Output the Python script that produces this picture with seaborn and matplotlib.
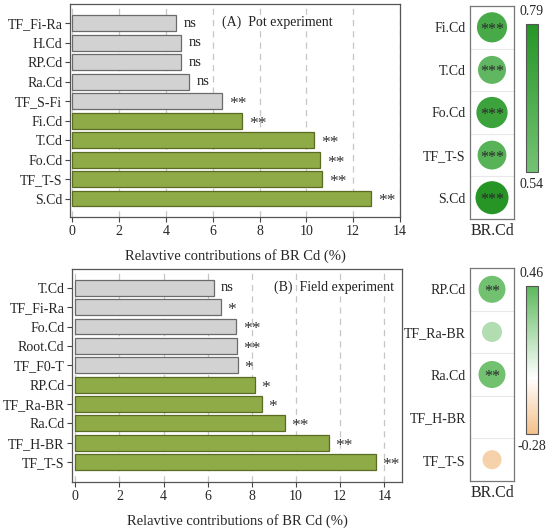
import numpy as np
import pandas as pd
import matplotlib
matplotlib.use('Agg')
import matplotlib.pyplot as plt
import seaborn as sns
from matplotlib.colors import LinearSegmentedColormap, Normalize
from matplotlib.cm import ScalarMappable

# 막대 데이터 (A: pot, B: field)
pot_vars = ['TF_Fi-Ra', 'H.Cd', 'RP.Cd', 'Ra.Cd', 'TF_S-Fi', 'Fi.Cd', 'T.Cd', 'Fo.Cd', 'TF_T-S', 'S.Cd']
pot_vals = [4.45, 4.65, 4.65, 5.0, 6.38, 7.25, 10.32, 10.57, 10.67, 12.75]
pot_sig = ['ns', 'ns', 'ns', 'ns', '**', '**', '**', '**', '**', '**']
pot_grp = ['grey'] * 5 + ['green'] * 5

field_vars = ['T.Cd', 'TF_Fi-Ra', 'Fo.Cd', 'Root.Cd', 'TF_F0-T', 'RP.Cd', 'TF_Ra-BR', 'Ra.Cd', 'TF_H-BR', 'TF_T-S']
field_vals = [6.3, 6.58, 7.3, 7.31, 7.36, 8.13, 8.44, 9.5, 11.48, 13.62]
field_sig = ['ns', '*', '**', '**', '*', '*', '*', '**', '**', '**']
field_grp = ['grey'] * 5 + ['green'] * 5

# 상관 데이터
pot_corr_vars = ['Fi.Cd', 'T.Cd', 'Fo.Cd', 'TF_T-S', 'S.Cd']
pot_corr = [0.68, 0.60, 0.72, 0.63, 0.79]
pot_corr_sig = ['***', '***', '***', '***', '***']

field_corr_vars = ['RP.Cd', 'TF_Ra-BR', 'Ra.Cd', 'TF_H-BR', 'TF_T-S']
field_corr = [0.40, 0.22, 0.40, 0.0, -0.20]
field_corr_sig = ['**', '', '**', '', '']

GREEN, GREY = '#95bc36', '#d2d2d2'
XLAB = 'Relavtive contributions of BR Cd (%)'

sns.set_style('white')
plt.rcParams['font.family'] = ['Liberation Serif', 'DejaVu Serif']

W, H = 550, 532
fig = plt.figure(figsize=(W / 100, H / 100), dpi=100)


def px(l, t, r, b):
    return [l / W, 1 - b / H, (r - l) / W, (b - t) / H]


def bar_panel(ax, vars_, vals, sig, grp, xlim, ylim, label, lx):
    df = pd.DataFrame({'var': vars_, 'val': vals, 'grp': grp})
    sns.barplot(data=df, x='val', y='var', hue='grp', palette={'grey': GREY, 'green': GREEN},
                dodge=False, width=0.82, linewidth=0.9, legend=False, ax=ax)
    for p in ax.patches:
        fc = p.get_facecolor()
        p.set_edgecolor('#6b6b6b' if abs(fc[0] - fc[1]) < 0.05 else '#5a6b22')
    for i, (v, s) in enumerate(zip(vals, sig)):
        if s == 'ns':
            ax.text(v + 0.3, i, s, va='center', ha='left', fontsize=10.5, color='#222222')
        else:
            ax.text(v + 0.3, i + 0.15, s, va='center', ha='left', fontsize=12.5, color='#333333')
    ax.text(lx, -0.05, label, va='center', ha='left', fontsize=10, color='#222222')
    ax.set_xlim(*xlim)
    ax.set_ylim(*ylim)
    ax.set_xticks(range(0, 15, 2))
    ax.grid(axis='x', linestyle=(0, (5, 4)), color='#c6c6c6', lw=0.9)
    ax.set_axisbelow(True)
    ax.set_ylabel('')
    ax.set_xlabel(XLAB, fontsize=10.5, labelpad=8)
    ax.tick_params(axis='both', which='major', labelsize=10, length=3.5, width=0.8,
                   direction='out', color='#444444', bottom=True, left=True, pad=2)
    for sp in ax.spines.values():
        sp.set_color('#555555')
        sp.set_linewidth(0.9)


ax1 = fig.add_axes(px(70, 4, 400, 217))
bar_panel(ax1, pot_vars, pot_vals, pot_sig, pot_grp, (-0.1, 14), (9.95, -1.0),
          '(A)  Pot experiment', 6.4)

ax2 = fig.add_axes(px(72, 269, 402, 482))
bar_panel(ax2, field_vars, field_vals, field_sig, field_grp, (-0.15, 14.8), (10.03, -0.97),
          '(B)  Field experiment', 9.0)


def corr_panel(ax, cax, vars_, vals, sig, cmap, vmin, vmax, size_norm, sizes):
    n = len(vars_)
    df = pd.DataFrame({'x': np.zeros(n), 'y': np.arange(n), 'v': vals, 'a': np.abs(vals)})
    sns.scatterplot(data=df, x='x', y='y', hue='v', palette=cmap, hue_norm=(vmin, vmax),
                    size='a', sizes=sizes, size_norm=size_norm, edgecolor='none',
                    linewidth=0, legend=False, ax=ax)
    for i, s in enumerate(sig):
        if s:
            ax.text(0, i + 0.06, s, ha='center', va='center', fontsize=11.5, color='#2a2a2a')
    for yb in np.arange(0.5, n - 0.5, 1):
        ax.axhline(yb, color='#e8e8e8', lw=0.8, zorder=0)
    ax.set_xlim(-0.5, 0.5)
    ax.set_ylim(n - 0.5, -0.5)
    ax.set_yticks(range(n))
    ax.set_yticklabels(vars_, fontsize=10)
    ax.set_xticks([0])
    ax.set_xticklabels(['BR.Cd'], fontsize=11.5)
    ax.tick_params(length=0, pad=3)
    ax.set_xlabel('')
    ax.set_ylabel('')
    for sp in ax.spines.values():
        sp.set_color('#777777')
        sp.set_linewidth(0.9)
    cb = fig.colorbar(ScalarMappable(norm=Normalize(vmin, vmax), cmap=cmap), cax=cax)
    cb.set_ticks([])
    cb.outline.set_edgecolor('#555555')
    cb.outline.set_linewidth(0.8)
    cax.text(0.5, 1.04, f'{vmax:.2f}', transform=cax.transAxes, ha='center', va='bottom', fontsize=10)
    cax.text(0.5, -0.04, f'{vmin:.2f}', transform=cax.transAxes, ha='center', va='top', fontsize=10)


cmap_top = LinearSegmentedColormap.from_list('g', ['#74c274', '#269526'])
cmap_bot = LinearSegmentedColormap.from_list('d', [(0, '#f3c08a'), (0.378, '#ffffff'), (1, '#5cb85c')])

ax3 = fig.add_axes(px(470, 6, 514, 219))
cax3 = fig.add_axes(px(526, 24, 538, 172))
corr_panel(ax3, cax3, pot_corr_vars, pot_corr, pot_corr_sig, cmap_top, 0.54, 0.79,
           (0.54, 0.79), (356, 565))

ax4 = fig.add_axes(px(470, 268, 514, 481))
cax4 = fig.add_axes(px(526, 286, 538, 434))
corr_panel(ax4, cax4, field_corr_vars, field_corr, field_corr_sig, cmap_bot, -0.28, 0.46,
           (0, 0.46), (0, 435))

fig.savefig('out.png', dpi=100)
